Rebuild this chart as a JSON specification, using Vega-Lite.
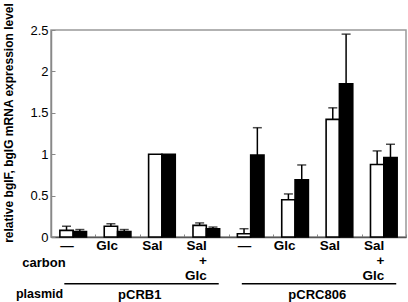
{
  "$schema": "https://vega.github.io/schema/vega-lite/v6.json",
  "autosize": {"type": "none"},
  "width": 355,
  "height": 207,
  "padding": {"left": 51, "top": 30, "right": 2, "bottom": 65},
  "background": "white",
  "config": {
    "font": "Liberation Sans",
    "view": {"stroke": "#999", "strokeWidth": 1.5}
  },
  "datasets": {
    "main": [
      {"cond": "pCRB1|—", "series": "bglF", "value": 0.08, "hi": 0.13},
      {"cond": "pCRB1|—", "series": "bglG", "value": 0.065, "hi": 0.09},
      {"cond": "pCRB1|Glc", "series": "bglF", "value": 0.13, "hi": 0.16},
      {"cond": "pCRB1|Glc", "series": "bglG", "value": 0.065, "hi": 0.09},
      {"cond": "pCRB1|Sal", "series": "bglF", "value": 1.0, "hi": null},
      {"cond": "pCRB1|Sal", "series": "bglG", "value": 1.0, "hi": null},
      {"cond": "pCRB1|Sal+Glc", "series": "bglF", "value": 0.14, "hi": 0.17},
      {"cond": "pCRB1|Sal+Glc", "series": "bglG", "value": 0.1, "hi": 0.12},
      {"cond": "pCRC806|—", "series": "bglF", "value": 0.04, "hi": 0.1},
      {"cond": "pCRC806|—", "series": "bglG", "value": 0.99, "hi": 1.32},
      {"cond": "pCRC806|Glc", "series": "bglF", "value": 0.45, "hi": 0.52},
      {"cond": "pCRC806|Glc", "series": "bglG", "value": 0.69, "hi": 0.87},
      {"cond": "pCRC806|Sal", "series": "bglF", "value": 1.42, "hi": 1.56},
      {"cond": "pCRC806|Sal", "series": "bglG", "value": 1.85, "hi": 2.45},
      {"cond": "pCRC806|Sal+Glc", "series": "bglF", "value": 0.875, "hi": 1.04},
      {"cond": "pCRC806|Sal+Glc", "series": "bglG", "value": 0.96, "hi": 1.12}
    ],
    "groups": [
      {"plasmid": "pCRB1", "start": "pCRB1|—", "end": "pCRB1|Sal+Glc", "mid": "pCRB1|Glc"},
      {"plasmid": "pCRC806", "start": "pCRC806|—", "end": "pCRC806|Sal+Glc", "mid": "pCRC806|Glc"}
    ],
    "rowlabel": [{"row": "plasmid", "at": "pCRB1|—"}]
  },
  "layer": [
    {
      "data": {"name": "main"},
      "transform": [{"filter": "datum.hi != null"}],
      "mark": {"type": "rule", "color": "black", "strokeWidth": 1.5},
      "encoding": {
        "x": {"field": "cond", "type": "nominal"},
        "xOffset": {"field": "series", "type": "nominal"},
        "y": {"field": "value", "type": "quantitative"},
        "y2": {"field": "hi"}
      }
    },
    {
      "data": {"name": "main"},
      "transform": [{"filter": "datum.hi != null"}],
      "mark": {"type": "tick", "color": "black", "thickness": 1.5, "size": 9, "orient": "horizontal"},
      "encoding": {
        "x": {"field": "cond", "type": "nominal"},
        "xOffset": {"field": "series", "type": "nominal"},
        "y": {"field": "hi", "type": "quantitative"}
      }
    },
    {
      "data": {"name": "main"},
      "mark": {"type": "bar", "stroke": "black", "strokeWidth": 1.6},
      "encoding": {
        "x": {
          "field": "cond", "type": "nominal",
          "scale": {
            "domain": ["pCRB1|—", "pCRB1|Glc", "pCRB1|Sal", "pCRB1|Sal+Glc", "pCRC806|—", "pCRC806|Glc", "pCRC806|Sal", "pCRC806|Sal+Glc"],
            "paddingInner": 0, "paddingOuter": 0
          },
          "axis": {
            "title": "carbon",
            "titleFontSize": 13, "titleFontWeight": "bold", "titleColor": "black",
            "titleX": -7.5, "titleY": 25, "titleAlign": "center", "titleBaseline": "middle",
            "labelAngle": 0,
            "labelExpr": "split(datum.value, '|')[1] == 'Sal+Glc' ? ['Sal', '+', 'Glc'] : split(datum.value, '|')[1]",
            "labelFontSize": 13.5, "labelFontWeight": "bold", "labelColor": "black",
            "labelLineHeight": 15, "labelPadding": 4, "labelBaseline": "top",
            "tickBand": "extent", "tickSize": -3, "tickColor": "#888", "tickWidth": 1,
            "domainColor": "#555", "domainWidth": 1.5
          }
        },
        "xOffset": {
          "field": "series", "type": "nominal",
          "scale": {"domain": ["bglF", "bglG"], "paddingInner": 0, "paddingOuter": 0.665}
        },
        "y": {
          "field": "value", "type": "quantitative",
          "scale": {"domain": [0, 2.5], "nice": false},
          "axis": {
            "values": [0, 0.5, 1, 1.5, 2, 2.5],
            "format": "~g",
            "grid": false,
            "labelFontSize": 13, "labelColor": "black", "labelPadding": 7,
            "tickSize": -4, "tickColor": "#888", "tickWidth": 1,
            "domainColor": "#888", "domainWidth": 1.5,
            "title": "relative bglF, bglG mRNA expression level",
            "titleFontSize": 12, "titleFontWeight": "bold", "titleColor": "black",
            "titleX": -43, "titleY": 92.5, "titleAlign": "center", "titleBaseline": "middle", "titleAngle": -90
          }
        },
        "fill": {
          "field": "series", "type": "nominal",
          "scale": {"domain": ["bglF", "bglG"], "range": ["white", "black"]},
          "legend": null
        }
      }
    },
    {
      "data": {"name": "groups"},
      "mark": {"type": "rule", "color": "black", "strokeWidth": 1.6},
      "encoding": {
        "x": {"field": "start", "type": "nominal", "bandPosition": 0.3},
        "x2": {"field": "end", "bandPosition": 0.78},
        "y": {"datum": -0.565}
      }
    },
    {
      "data": {"name": "groups"},
      "mark": {"type": "text", "fontSize": 13, "fontWeight": "bold", "color": "black", "baseline": "middle"},
      "encoding": {
        "x": {"field": "mid", "type": "nominal", "bandPosition": 1},
        "y": {"datum": -0.7},
        "text": {"field": "plasmid"}
      }
    },
    {
      "data": {"name": "rowlabel"},
      "mark": {"type": "text", "fontSize": 12.5, "fontWeight": "bold", "color": "black", "baseline": "middle", "align": "center", "dx": -11.5},
      "encoding": {
        "x": {"field": "at", "type": "nominal", "bandPosition": 0},
        "y": {"datum": -0.69},
        "text": {"field": "row"}
      }
    }
  ]
}
